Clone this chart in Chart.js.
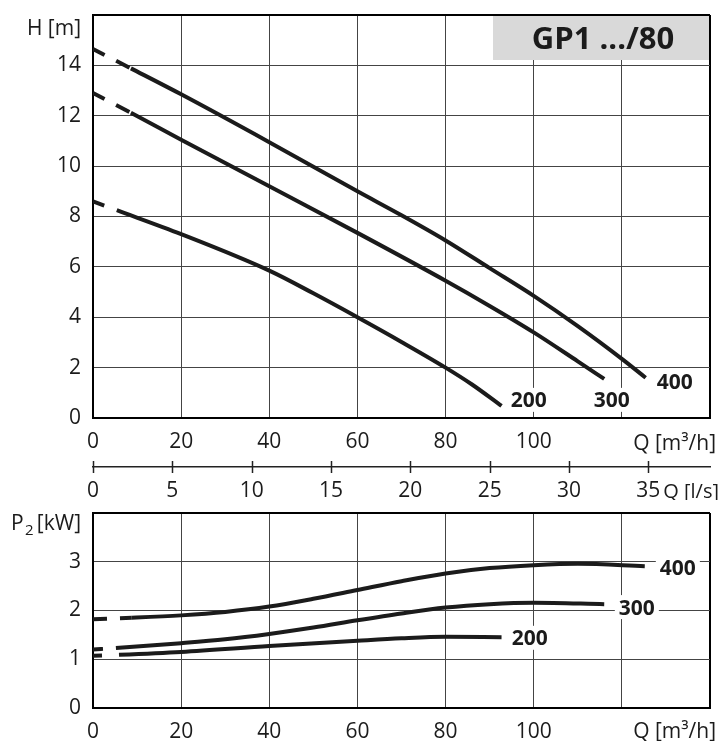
<!DOCTYPE html>
<html>
<head>
<meta charset="utf-8">
<script src="https://cdn.jsdelivr.net/npm/chart.js@4.4.1/dist/chart.umd.min.js"></script>
<style>
    body { margin: 0; background: #fff; }
    #wrap { position: relative; width: 721px; height: 741px; }
    .pane { position: absolute; left: 0; }
</style>
</head>
<body>
<div id="wrap">
    <div class="pane" style="top:0"><canvas id="headChart" width="721" height="500"></canvas></div>
    <div class="pane" style="top:500px"><canvas id="powerChart" width="721" height="241"></canvas></div>
</div>
<script>
// Q-H curves (Q in m3/h, H in m)
const flowH400 = [0, 8.6, 20, 40, 60, 70, 80, 90, 100, 110, 120, 125.4];
const head400 = [14.65, 13.88, 12.85, 10.95, 9.0, 8.05, 7.05, 5.95, 4.85, 3.65, 2.35, 1.6];
const flowH300 = [0, 8.6, 20, 40, 60, 80, 90, 100, 110, 116];
const head300 = [12.9, 12.12, 11.05, 9.2, 7.35, 5.45, 4.45, 3.4, 2.25, 1.55];
const flowH200 = [0, 5.4, 20, 40, 50, 60, 70, 80, 86, 92.7];
const head200 = [8.6, 8.25, 7.3, 5.85, 4.95, 4.0, 3.02, 2.0, 1.33, 0.48];

// Q-P2 curves (P2 in kW)
const flowP400 = [0, 8.8, 20, 30, 40, 50, 60, 70, 80, 90, 100, 110, 125.2];
const power400 = [1.82, 1.85, 1.9, 1.97, 2.08, 2.24, 2.42, 2.6, 2.76, 2.87, 2.93, 2.96, 2.91];
const flowP300 = [0, 5.2, 20, 30, 40, 50, 60, 70, 80, 90, 100, 116];
const power300 = [1.2, 1.23, 1.33, 1.41, 1.52, 1.65, 1.8, 1.94, 2.06, 2.13, 2.16, 2.13];
const flowP200 = [0, 5.9, 20, 40, 60, 70, 80, 92.7];
const power200 = [1.07, 1.09, 1.15, 1.27, 1.38, 1.43, 1.46, 1.45];

// tick labels
const flowTickLabels = [0, 20, 40, 60, 80, 100];
const litreTickLabels = [0, 5, 10, 15, 20, 25, 30, 35];
const headTickLabels = [0, 2, 4, 6, 8, 10, 12, 14];
const powerTickLabels = [0, 1, 2, 3];

const curveNames = ['200', '300', '400'];
const title = 'GP1 .../80';

const ink = '#1b1b1b';
const font = "'Open Sans', sans-serif";

Chart.defaults.font.family = font;
Chart.defaults.font.size = 21;
Chart.defaults.color = ink;

function points(xs, ys) {
    return xs.map((x, i) => ({ x, y: ys[i] }));
}

function curve(xs, ys, dash) {
    return {
        data: points(xs, ys),
        borderColor: ink,
        borderWidth: 4,
        borderCapStyle: 'butt',
        pointRadius: 0,
        cubicInterpolationMode: 'monotone',
        segment: {
            borderDash: (ctx) => (ctx.p0DataIndex === 0 ? dash : undefined),
        },
    };
}

function gridStyle(maxValue) {
    return {
        color: (ctx) => (ctx.tick && ctx.tick.value === maxValue ? '#000' : '#444'),
        lineWidth: (ctx) => (ctx.tick && ctx.tick.value === maxValue ? 2 : 1),
        drawTicks: false,
    };
}

// fixed axis boxes, no extra label padding so the plot lands where it should
function fixHeight(h) {
    return (s) => {
        s.height = h;
        s.paddingLeft = 0;
        s.paddingRight = 0;
    };
}

function fixWidth(w) {
    return (s) => {
        s.width = w;
        s.paddingTop = 0;
        s.paddingBottom = 0;
    };
}

function flowAxis(height, padding) {
    return {
        type: 'linear',
        position: 'bottom',
        weight: 0,
        min: 0,
        max: 140,
        ticks: {
            stepSize: 20,
            padding,
            autoSkip: false,
            maxRotation: 0,
            callback: (v) => (flowTickLabels.includes(v) ? v : ''),
        },
        grid: gridStyle(140),
        border: { color: '#000', width: 2 },
        afterFit: fixHeight(height),
    };
}

function drawText(ctx, text, x, y, size, weight, align) {
    ctx.font = `${weight} ${size}px ${font}`;
    ctx.textAlign = align;
    ctx.textBaseline = 'alphabetic';
    ctx.fillStyle = ink;
    ctx.fillText(text, x, y + size * 0.36);
}

// curve labels sit on a white patch that breaks the grid
function drawCurveLabels(chart, labels) {
    const { ctx, scales } = chart;
    ctx.save();
    ctx.font = `bold 21px ${font}`;
    labels.forEach((l) => {
        const x = scales.x.getPixelForValue(l.q);
        const y = scales.y.getPixelForValue(l.v);
        const w = ctx.measureText(l.text).width;
        ctx.fillStyle = '#fff';
        ctx.fillRect(x - w / 2 - 4, y - 12, w + 8, 24);
        drawText(ctx, l.text, x, y, 21, 'bold', 'center');
    });
    ctx.restore();
}

const headLabels = [
    { text: curveNames[0], q: 98.9, v: 0.72 },
    { text: curveNames[1], q: 117.7, v: 0.72 },
    { text: curveNames[2], q: 132, v: 1.47 },
];

const powerLabels = [
    { text: curveNames[2], q: 132.7, v: 2.89 },
    { text: curveNames[1], q: 123.4, v: 2.07 },
    { text: curveNames[0], q: 99.1, v: 1.44 },
];

const headDecor = {
    id: 'headDecor',
    beforeDatasetsDraw(chart) {
        const { ctx, chartArea } = chart;
        ctx.save();
        ctx.fillStyle = '#d9d9d9';
        ctx.fillRect(493, chartArea.top + 1, chartArea.right - 1 - 493, 44);
        drawText(ctx, title, 603, 38, 31, 'bold', 'center');
        ctx.restore();
    },
    afterDraw(chart) {
        const { ctx } = chart;
        const litre = chart.scales.x2;
        ctx.save();
        ctx.strokeStyle = '#222';
        ctx.lineWidth = 1.5;
        litre.ticks.forEach((t) => {
            const x = Math.round(litre.getPixelForValue(t.value)) + 0.5;
            ctx.beginPath();
            ctx.moveTo(x, litre.top - 6);
            ctx.lineTo(x, litre.top + 6);
            ctx.stroke();
        });
        drawCurveLabels(chart, headLabels);
        drawText(ctx, 'H [m]', 81, 27, 21, 'normal', 'right');
        drawText(ctx, 'Q [m³/h]', 716, 442, 21, 'normal', 'right');
        drawText(ctx, 'Q [l/s]', 719, 491, 20, 'normal', 'right');
        ctx.restore();
    },
};

const powerDecor = {
    id: 'powerDecor',
    afterDraw(chart) {
        const { ctx } = chart;
        ctx.save();
        drawText(ctx, 'P', 11, 22, 21, 'normal', 'left');
        drawText(ctx, '2', 25, 30, 15, 'normal', 'left');
        drawText(ctx, '[kW]', 81, 22, 21, 'normal', 'right');
        drawText(ctx, 'Q [m³/h]', 716, 230, 21, 'normal', 'right');
        drawCurveLabels(chart, powerLabels);
        ctx.restore();
    },
};

const baseOptions = {
    responsive: false,
    animation: false,
    events: [],
    plugins: { legend: { display: false }, tooltip: { enabled: false } },
};

new Chart(document.getElementById('headChart'), {
    type: 'line',
    data: {
        datasets: [
            curve(flowH400, head400, [13, 13, 15, 4]),
            curve(flowH300, head300, [13, 13, 15, 4]),
            curve(flowH200, head200, [12, 14]),
        ],
    },
    options: {
        ...baseOptions,
        layout: { padding: { left: 0, top: 15, right: 11, bottom: 0 } },
        scales: {
            x: flowAxis(49, 11),
            x2: {
                type: 'linear',
                position: 'bottom',
                weight: 1,
                min: 0,
                max: 140 / 3.6,
                ticks: {
                    stepSize: 5,
                    padding: 11,
                    includeBounds: false,
                    autoSkip: false,
                    maxRotation: 0,
                    callback: (v) => (litreTickLabels.includes(v) ? v : ''),
                },
                grid: { drawOnChartArea: false, drawTicks: false },
                border: { color: '#222', width: 1.5 },
                afterFit: fixHeight(33),
            },
            y: {
                min: 0,
                max: 16,
                ticks: {
                    stepSize: 2,
                    padding: 12,
                    callback: (v) => (headTickLabels.includes(v) ? v : ''),
                },
                grid: gridStyle(16),
                border: { color: '#000', width: 2 },
                afterFit: fixWidth(93),
            },
        },
    },
    plugins: [headDecor],
});

new Chart(document.getElementById('powerChart'), {
    type: 'line',
    data: {
        datasets: [
            curve(flowP400, power400, [14, 13, 40]),
            curve(flowP300, power300, [10, 13]),
            curve(flowP200, power200, [9, 17]),
        ],
    },
    options: {
        ...baseOptions,
        layout: { padding: { left: 0, top: 13, right: 11, bottom: 0 } },
        scales: {
            x: flowAxis(33, 11),
            y: {
                min: 0,
                max: 4,
                ticks: {
                    stepSize: 1,
                    padding: 12,
                    callback: (v) => (powerTickLabels.includes(v) ? v : ''),
                },
                grid: gridStyle(4),
                border: { color: '#000', width: 2 },
                afterFit: fixWidth(93),
            },
        },
    },
    plugins: [powerDecor],
});
</script>
</body>
</html>
